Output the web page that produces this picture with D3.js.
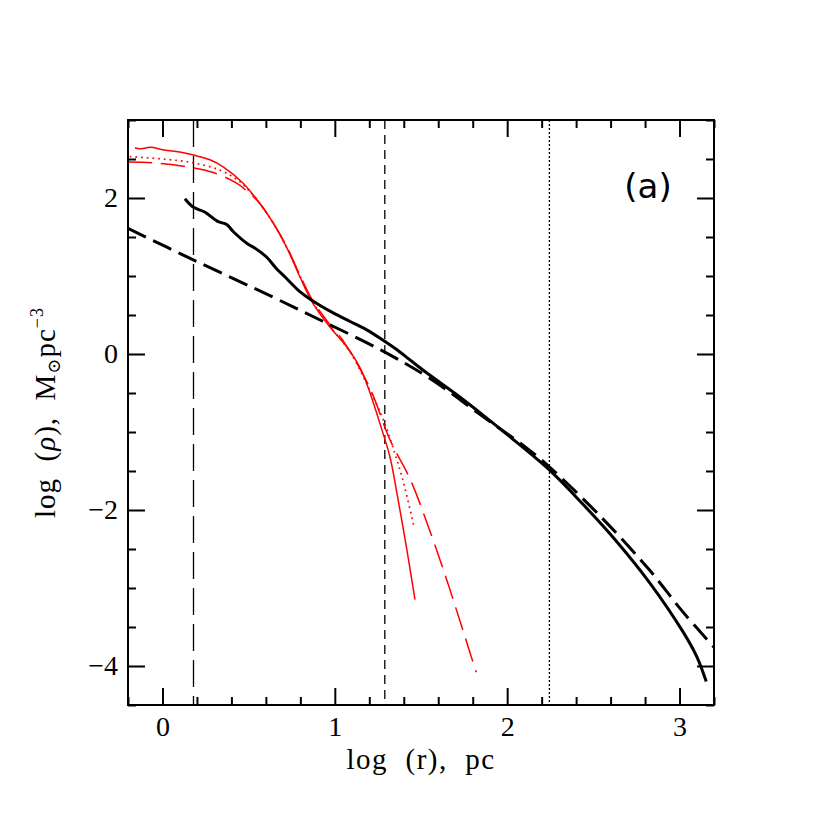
<!DOCTYPE html>
<html lang="en">
<head>
  <meta charset="utf-8">
  <title>Density profiles</title>
  <script src="https://d3js.org/d3.v7.min.js"></script>
  <style>
    body { margin: 0; background: #fff; }
    text { white-space: pre; }
  </style>
</head>
<body>

<svg width="830" height="830"></svg>

<script>
  // Data: [log r, log rho]
  const blackSolid = [
    [0.13, 1.99], [0.18, 1.88], [0.245, 1.82], [0.32, 1.70], [0.373, 1.66], [0.41, 1.57],
    [0.495, 1.41], [0.535, 1.36], [0.605, 1.24], [0.663, 1.09], [0.71, 0.99], [0.797, 0.80],
    [0.866, 0.69], [0.988, 0.53], [1.086, 0.42], [1.185, 0.31], [1.278, 0.18], [1.357, 0.06],
    [1.45, -0.1], [1.55, -0.27], [1.7, -0.51], [1.858, -0.78], [2.015, -1.06], [2.246, -1.49],
    [2.437, -1.92], [2.63, -2.39], [2.826, -2.93], [3.017, -3.55], [3.1, -3.88], [3.155, -4.2]
  ];
  const blackDashed = [
    [-0.2, 1.61], [0.176, 1.21], [0.64, 0.73], [0.93, 0.42], [1.277, 0.04], [1.55, -0.31],
    [1.858, -0.8], [2.11, -1.2], [2.246, -1.45], [2.536, -2.07], [2.826, -2.77], [3.017, -3.3],
    [3.2, -3.76]
  ];
  const redSolid = [
    [-0.16, 2.64], [-0.13, 2.63], [-0.07, 2.65], [0.0, 2.62], [0.1, 2.59], [0.18, 2.55],
    [0.275, 2.49], [0.352, 2.40], [0.468, 2.19], [0.565, 1.93], [0.642, 1.68],
    [0.72, 1.37], [0.797, 0.99], [0.873, 0.65], [0.97, 0.35], [1.07, 0.09], [1.145, -0.17],
    [1.2, -0.47], [1.26, -0.88], [1.32, -1.32], [1.36, -1.78], [1.415, -2.47], [1.465, -3.15]
  ];
  const redDotted = [
    [-0.19, 2.53], [0.0, 2.5], [0.18, 2.45], [0.33, 2.36], [0.43, 2.24], [0.5, 2.1],
    [0.565, 1.93], [0.642, 1.68], [0.72, 1.37], [0.8, 0.99], [0.873, 0.66], [0.97, 0.36],
    [1.087, 0.03], [1.2, -0.45], [1.277, -0.82], [1.33, -1.15], [1.395, -1.62], [1.46, -2.22]
  ];
  const redDashed = [
    [-0.2, 2.46], [-0.05, 2.45], [0.14, 2.40], [0.29, 2.33], [0.43, 2.19], [0.5, 2.07],
    [0.565, 1.93], [0.642, 1.68], [0.72, 1.38], [0.8, 1.0], [0.873, 0.68], [0.97, 0.38],
    [1.045, 0.18], [1.2, -0.42], [1.32, -1.1], [1.44, -1.62], [1.55, -2.26], [1.65, -2.9],
    [1.74, -3.52], [1.82, -4.08]
  ];
  // vertical marker lines
  const vLines = [
    { x: 0.18, dash: "27,9" },
    { x: 1.29, dash: "9,6" },
    { x: 2.245, dash: "2,2" }
  ];
  const xTicks = [0, 1, 2, 3];
  const yTicks = [-4, -2, 0, 2];

  const svg = d3.select("svg");
  const margin = { left: 128, top: 120, right: 116, bottom: 125 };
  const W = 830 - margin.left - margin.right;
  const H = 830 - margin.top - margin.bottom;

  const x = d3.scaleLinear().domain([-0.2, 3.2]).range([0, W]);
  const y = d3.scaleLinear().domain([-4.5, 3]).range([H, 0]);

  const g = svg.append("g").attr("transform", `translate(${margin.left},${margin.top})`);

  const xMinor = d3.range(-0.2, 3.21, 0.2).map(v => +v.toFixed(1)).filter(v => !xTicks.includes(v));
  const yMinor = d3.range(-4.5, 3.01, 0.5).filter(v => !yTicks.includes(v));

  function styleAxis(sel) {
    sel.select(".domain").remove();
    sel.selectAll("line").attr("stroke", "#000").attr("stroke-width", 2);
  }

  const serif = "'Liberation Serif', 'DejaVu Serif', serif";

  // Bottom
  g.append("g").attr("transform", `translate(0,${H})`)
    .call(d3.axisBottom(x).tickValues(xTicks).tickSize(-17).tickPadding(11).tickFormat(d3.format("d")))
    .call(styleAxis)
    .selectAll("text").attr("font-family", serif).attr("font-size", 28).attr("fill", "#000");
  g.append("g").attr("transform", `translate(0,${H})`)
    .call(d3.axisBottom(x).tickValues(xMinor).tickSize(-8).tickFormat(""))
    .call(styleAxis);
  // Top
  g.append("g")
    .call(d3.axisTop(x).tickValues(xTicks).tickSize(-17).tickFormat(""))
    .call(styleAxis);
  g.append("g")
    .call(d3.axisTop(x).tickValues(xMinor).tickSize(-8).tickFormat(""))
    .call(styleAxis);
  // Left
  g.append("g")
    .call(d3.axisLeft(y).tickValues(yTicks).tickSize(-17).tickPadding(10)
      .tickFormat(d => d < 0 ? "\u2212" + Math.abs(d) : d))
    .call(styleAxis)
    .selectAll("text").attr("font-family", serif).attr("font-size", 28).attr("fill", "#000");
  g.append("g")
    .call(d3.axisLeft(y).tickValues(yMinor).tickSize(-8).tickFormat(""))
    .call(styleAxis);
  // Right
  g.append("g").attr("transform", `translate(${W},0)`)
    .call(d3.axisRight(y).tickValues(yTicks).tickSize(-17).tickFormat(""))
    .call(styleAxis);
  g.append("g").attr("transform", `translate(${W},0)`)
    .call(d3.axisRight(y).tickValues(yMinor).tickSize(-8).tickFormat(""))
    .call(styleAxis);

  // Clip
  svg.append("defs").append("clipPath").attr("id", "clip")
    .append("rect").attr("width", W).attr("height", H);
  const plot = g.append("g").attr("clip-path", "url(#clip)");

  // Vertical lines
  plot.selectAll(".vline").data(vLines).join("line")
    .attr("x1", d => x(d.x)).attr("x2", d => x(d.x))
    .attr("y1", 0).attr("y2", H)
    .attr("stroke", "#000").attr("stroke-width", 1.3)
    .attr("stroke-dasharray", d => d.dash);

  const line = d3.line().x(d => x(d[0])).y(d => y(d[1])).curve(d3.curveCatmullRom.alpha(0.5));

  const series = [
    { data: redDashed, color: "red", width: 1.5, dash: "24,9" },
    { data: redDotted, color: "red", width: 1.7, dash: "1.7,4" },
    { data: redSolid, color: "red", width: 1.5, dash: null },
    { data: blackDashed, color: "#000", width: 3, dash: "20,8" },
    { data: blackSolid, color: "#000", width: 3, dash: null }
  ];

  plot.selectAll(".curve").data(series).join("path")
    .attr("d", d => line(d.data))
    .attr("fill", "none")
    .attr("stroke", d => d.color)
    .attr("stroke-width", d => d.width)
    .attr("stroke-dasharray", d => d.dash);

  // Frame
  g.append("rect").attr("width", W).attr("height", H)
    .attr("fill", "none").attr("stroke", "#000").attr("stroke-width", 2);

  // Labels
  svg.append("text")
    .attr("x", margin.left + W / 2).attr("y", 769)
    .attr("text-anchor", "middle")
    .attr("font-family", serif).attr("font-size", 29).attr("letter-spacing", 1.5)
    .text("log  (r),  pc");

  const yl = svg.append("text")
    .attr("transform", `translate(55,${margin.top + H / 2}) rotate(-90)`)
    .attr("text-anchor", "middle")
    .attr("font-family", serif).attr("font-size", 29).attr("letter-spacing", 1);
  yl.append("tspan").text("log  (");
  yl.append("tspan").attr("font-style", "italic").text("\u03c1");
  yl.append("tspan").text("),  M");
  yl.append("tspan").attr("font-size", 18).attr("dy", 5).text("\u2299");
  yl.append("tspan").attr("dy", -5).text("pc");
  yl.append("tspan").attr("font-size", 18).attr("dy", -12).text("\u22123");

  svg.append("text")
    .attr("x", 648).attr("y", 198)
    .attr("text-anchor", "middle")
    .attr("font-family", "'DejaVu Sans', sans-serif").attr("font-size", 34)
    .text("(a)");
</script>
</body>
</html>
